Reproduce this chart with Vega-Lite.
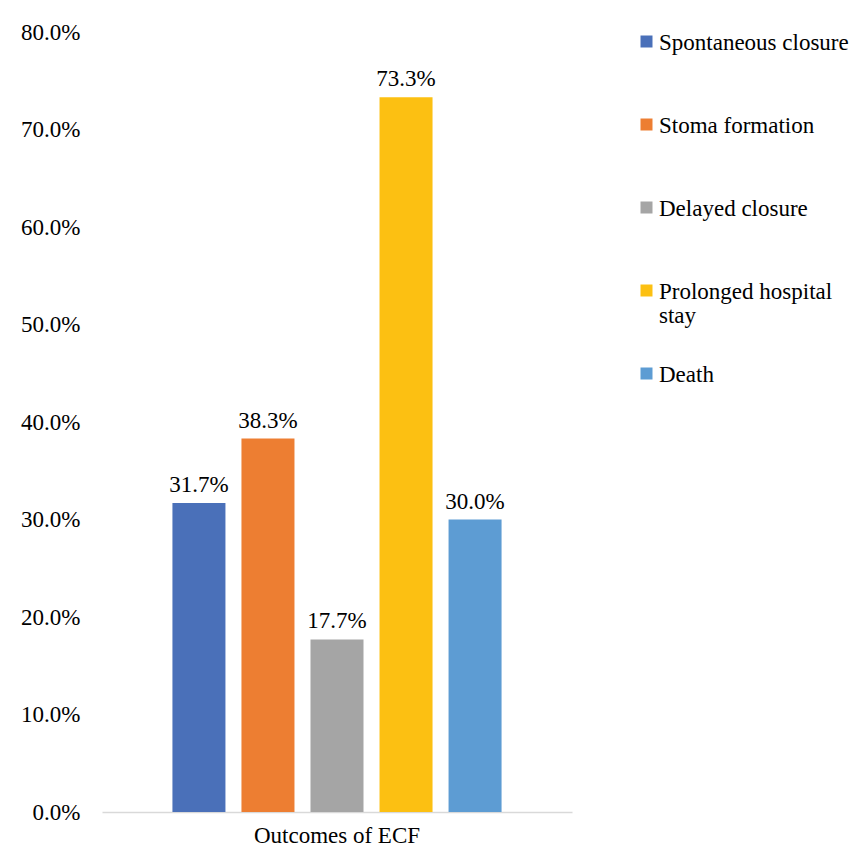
{
  "$schema": "https://vega.github.io/schema/vega-lite/v6.json",
  "width": 470,
  "height": 780,
  "autosize": {"type": "none"},
  "padding": {"left": 102, "top": 32, "right": 279, "bottom": 38},
  "background": "white",
  "config": {
    "view": {"stroke": null},
    "font": "Liberation Serif",
    "axis": {"labelFont": "Liberation Serif", "labelColor": "#000000"},
    "legend": {"labelFont": "Liberation Serif"}
  },
  "data": {
    "values": [
      {"group": "Outcomes of ECF", "outcome": "Spontaneous closure", "value": 0.317},
      {"group": "Outcomes of ECF", "outcome": "Stoma formation", "value": 0.383},
      {"group": "Outcomes of ECF", "outcome": "Delayed closure", "value": 0.177},
      {"group": "Outcomes of ECF", "outcome": "Prolonged hospital stay", "value": 0.733},
      {"group": "Outcomes of ECF", "outcome": "Death", "value": 0.30}
    ]
  },
  "encoding": {
    "x": {
      "field": "group",
      "type": "nominal",
      "scale": {"paddingInner": 0, "paddingOuter": 0.214},
      "axis": {
        "title": null,
        "labelAngle": 0,
        "labelFontSize": 23,
        "labelPadding": 12,
        "ticks": false,
        "domainColor": "#d9d9d9",
        "domainWidth": 1.5
      }
    },
    "xOffset": {
      "field": "outcome",
      "type": "nominal",
      "sort": ["Spontaneous closure", "Stoma formation", "Delayed closure", "Prolonged hospital stay", "Death"],
      "scale": {"paddingInner": 0.232, "paddingOuter": 0}
    },
    "y": {
      "field": "value",
      "type": "quantitative",
      "scale": {"domain": [0, 0.8], "nice": false},
      "axis": {
        "title": null,
        "format": ".1%",
        "values": [0, 0.1, 0.2, 0.3, 0.4, 0.5, 0.6, 0.7, 0.8],
        "labelFontSize": 23,
        "labelPadding": 22,
        "ticks": false,
        "domain": false,
        "grid": false
      }
    }
  },
  "layer": [
    {
      "mark": {"type": "bar"},
      "encoding": {
        "color": {
          "field": "outcome",
          "type": "nominal",
          "sort": ["Spontaneous closure", "Stoma formation", "Delayed closure", "Prolonged hospital stay", "Death"],
          "scale": {
            "domain": ["Spontaneous closure", "Stoma formation", "Delayed closure", "Prolonged hospital stay", "Death"],
            "range": ["#4a70b9", "#ed7e32", "#a5a5a5", "#fcc012", "#5d9cd3"]
          },
          "legend": {
            "title": null,
            "orient": "none",
            "legendX": 533,
            "legendY": -2,
            "padding": 0,
            "symbolType": "square",
            "symbolSize": 144,
            "symbolStrokeWidth": 0,
            "labelFontSize": 23,
            "labelOffset": 1,
            "labelLimit": 300,
            "rowPadding": 34,
            "labelColor": "#000000",
            "labelExpr": "datum.label == 'Prolonged hospital stay' ? ['Prolonged hospital', 'stay'] : [datum.label, '']",
            "encode": {
              "labels": {"update": {"dy": {"value": 1}, "lineHeight": {"value": 24}}}
            }
          }
        }
      }
    },
    {
      "mark": {"type": "text", "baseline": "alphabetic", "dy": -11, "fontSize": 23, "color": "#000000"},
      "encoding": {
        "text": {"field": "value", "type": "quantitative", "format": ".1%"}
      }
    }
  ]
}
